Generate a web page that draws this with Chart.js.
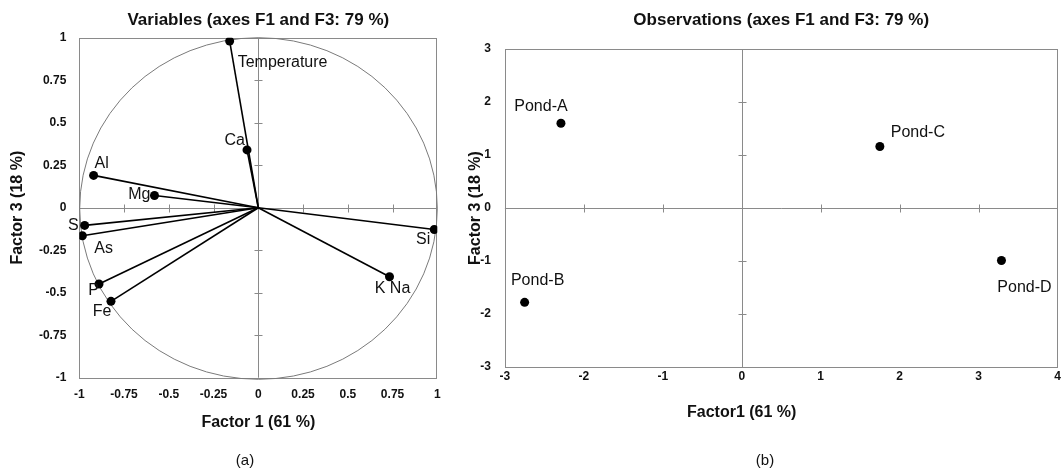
<!DOCTYPE html>
<html>
<head>
<meta charset="utf-8">
<script src="https://cdn.jsdelivr.net/npm/chart.js@4.4.1/dist/chart.umd.min.js"></script>
<style>
  body { margin: 0; background: #fff; width: 1062px; height: 469px; position: relative; overflow: hidden; font-family: "Liberation Sans", Arial, sans-serif; }
  .box { position: absolute; top: 0; height: 469px; }
  #boxA { left: 0; width: 460px; }
  #boxB { left: 455px; width: 607px; }
  .caption { position: absolute; top: 451px; font-size: 15px; color: #111; transform: translateX(-50%); }
</style>
</head>
<body>
<div class="box" id="boxA"><canvas id="chartA"></canvas></div>
<div class="box" id="boxB"><canvas id="chartB"></canvas></div>
<div class="caption" style="left:245px">(a)</div>
<div class="caption" style="left:765px">(b)</div>

<script>
// --- données : graphique (a) cercle des corrélations
const variableNames = ['Temperature', 'Ca', 'Al', 'Mg', 'S', 'As', 'P', 'Fe', 'Si', 'K Na'];
const factor1Loadings = [-0.16, -0.063, -0.92, -0.58, -0.97, -0.983, -0.89, -0.823, 0.983, 0.733];
const factor3Loadings = [0.98, 0.34, 0.19, 0.072, -0.104, -0.165, -0.449, -0.551, -0.128, -0.406];
const loadingTicks = [-1, -0.75, -0.5, -0.25, 0, 0.25, 0.5, 0.75, 1];

// --- données : graphique (b) observations
const pondNames = ['Pond-A', 'Pond-B', 'Pond-C', 'Pond-D'];
const pondFactor1 = [-2.29, -2.75, 1.75, 3.29];
const pondFactor3 = [1.60, -1.78, 1.16, -0.99];
const scoreXTicks = [-3, -2, -1, 0, 1, 2, 3, 4];
const scoreYTicks = [-3, -2, -1, 0, 1, 2, 3];

// placement des étiquettes (dx, dy, alignement) par rapport au point
const variableLabelPos = [
  [8, 21, 'left'], [-2, -9, 'right'], [1, -12, 'left'], [-4, -1, 'right'], [-6, 0, 'right'],
  [12, 13, 'left'], [0, 7, 'right'], [-9, 10, 'center'], [-4, 10, 'right'], [3, 12, 'center']
];
const pondLabelPos = [[-20, -17, 'center'], [13, -22, 'center'], [38, -14, 'center'], [23, 27, 'center']];

const FONT = '"Liberation Sans", Arial, sans-serif';
const GREY = '#8a8a8a';

// Plugin : cadre, axes centraux, cercle, étiquettes et titres d'axes
const pcaDecor = {
  id: 'pcaDecor',
  beforeDatasetsDraw(chart, args, opts) {
    const { ctx, chartArea: a, scales: { x, y } } = chart;
    const x0 = Math.round(x.getPixelForValue(0)) + 0.5;
    const y0 = Math.round(y.getPixelForValue(0)) + 0.5;
    ctx.save();
    ctx.strokeStyle = GREY;
    ctx.lineWidth = 1;
    const seg = (x1, y1, x2, y2) => { ctx.beginPath(); ctx.moveTo(x1, y1); ctx.lineTo(x2, y2); ctx.stroke(); };
    ctx.strokeRect(Math.round(a.left) + 0.5, Math.round(a.top) + 0.5, Math.round(a.width) - 1, Math.round(a.height));
    seg(a.left, y0, a.right, y0);
    seg(x0, a.top, x0, a.bottom);
    x.ticks.forEach(t => {
      if (t.value === 0 || t.value === x.min || t.value === x.max) return;
      const px = Math.round(x.getPixelForValue(t.value)) + 0.5;
      seg(px, y0 - 4, px, y0 + 4);
    });
    y.ticks.forEach(t => {
      if (t.value === 0 || t.value === y.min || t.value === y.max) return;
      const py = Math.round(y.getPixelForValue(t.value)) + 0.5;
      seg(x0 - 4, py, x0 + 4, py);
    });
    if (opts.circle) {
      ctx.strokeStyle = '#7a7a7a';
      ctx.beginPath();
      ctx.ellipse(x0, y0, x.getPixelForValue(1) - x0, y0 - y.getPixelForValue(1), 0, 0, Math.PI * 2);
      ctx.stroke();
    }
    ctx.restore();
  },
  afterDatasetsDraw(chart, args, opts) {
    const { ctx, scales: { x, y } } = chart;
    ctx.save();
    ctx.fillStyle = '#111';
    ctx.textBaseline = 'middle';
    ctx.font = '16px ' + FONT;
    opts.labels.forEach(l => {
      const pt = chart.getDatasetMeta(l.dataset).data[l.index];
      ctx.textAlign = l.pos[2];
      ctx.fillText(l.text, pt.x + l.pos[0], pt.y + l.pos[1]);
    });
    // titres d'axes
    ctx.font = 'bold 16px ' + FONT;
    ctx.textAlign = 'center';
    ctx.fillText(opts.xTitle, x.getPixelForValue(0), opts.xTitleY);
    ctx.translate(opts.yTitleX, y.getPixelForValue(0));
    ctx.rotate(-Math.PI / 2);
    ctx.fillText(opts.yTitle, 0, 0);
    ctx.restore();
  }
};

function fixedScale(tickValues, size, pad) {
  return {
    type: 'linear',
    min: tickValues[0],
    max: tickValues[tickValues.length - 1],
    afterBuildTicks: s => { s.ticks = tickValues.map(v => ({ value: v })); },
    afterFit: s => {
      if (s.isHorizontal()) s.height = size; else s.width = size;
      s.paddingLeft = s.paddingRight = s.paddingTop = s.paddingBottom = 0;
    },
    grid: { display: false, drawTicks: false },
    border: { display: false },
    ticks: {
      padding: pad, color: '#111',
      font: { family: FONT, size: 12, weight: 'bold' },
      callback: v => String(v)
    }
  };
}

function titleOpts(text, bottom) {
  return {
    display: true, text: text, fullSize: false, color: '#111',
    font: { family: FONT, size: 17, weight: 'bold' },
    padding: { top: 10, bottom: bottom }
  };
}

// Graphique (a) : variables
new Chart(document.getElementById('chartA'), {
  type: 'scatter',
  data: {
    datasets: variableNames.map((name, i) => ({
      label: name,
      data: [{ x: 0, y: 0 }, { x: factor1Loadings[i], y: factor3Loadings[i] }],
      showLine: true,
      borderColor: '#000',
      borderWidth: 1.6,
      pointRadius: [0, 4.5],
      pointBackgroundColor: '#000',
      pointBorderWidth: 0
    }))
  },
  options: {
    responsive: true, maintainAspectRatio: false, animation: false,
    layout: { padding: { left: 0, right: 22.7, top: 0, bottom: 0 } },
    scales: { x: fixedScale(loadingTicks, 91.3, 10), y: fixedScale(loadingTicks, 79.3, 13) },
    plugins: {
      legend: { display: false }, tooltip: { enabled: false },
      title: titleOpts('Variables (axes F1 and F3: 79 %)', 7.3),
      pcaDecor: {
        circle: true,
        labels: variableNames.map((n, i) => ({ text: n, dataset: i, index: 1, pos: variableLabelPos[i] })),
        xTitle: 'Factor 1 (61 %)', xTitleY: 423,
        yTitle: 'Factor 3 (18 %)', yTitleX: 18
      }
    }
  },
  plugins: [pcaDecor]
});

// Graphique (b) : observations
new Chart(document.getElementById('chartB'), {
  type: 'scatter',
  data: {
    datasets: [{
      label: 'Observations',
      data: pondNames.map((n, i) => ({ x: pondFactor1[i], y: pondFactor3[i] })),
      pointRadius: 4.5,
      pointBackgroundColor: '#000',
      pointBorderWidth: 0
    }]
  },
  options: {
    responsive: true, maintainAspectRatio: false, animation: false,
    layout: { padding: { left: 0, right: 1.8, top: 0, bottom: 0 } },
    scales: { x: fixedScale(scoreXTicks, 102, 2), y: fixedScale(scoreYTicks, 49.9, 14) },
    plugins: {
      legend: { display: false }, tooltip: { enabled: false },
      title: titleOpts('Observations (axes F1 and F3: 79 %)', 18.6),
      pcaDecor: {
        circle: false,
        labels: pondNames.map((n, i) => ({ text: n, dataset: 0, index: i, pos: pondLabelPos[i] })),
        xTitle: 'Factor1 (61 %)', xTitleY: 413,
        yTitle: 'Factor 3 (18 %)', yTitleX: 21
      }
    }
  },
  plugins: [pcaDecor]
});
</script>
</body>
</html>
